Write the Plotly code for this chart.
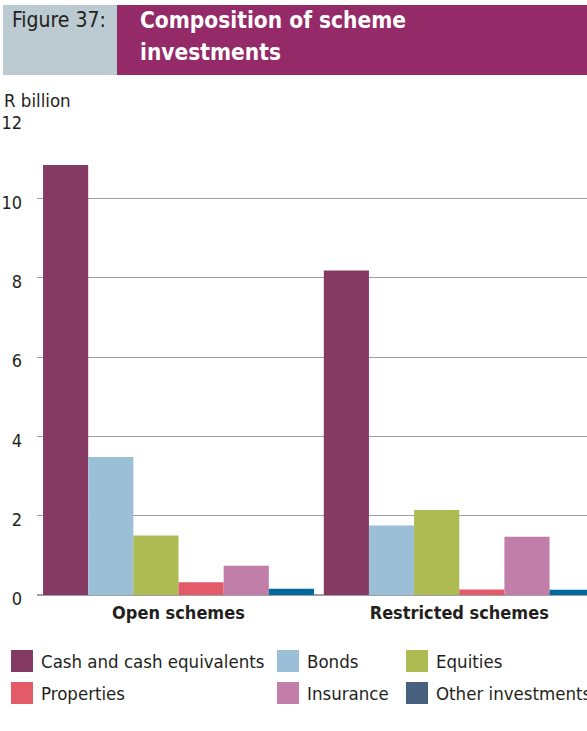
import plotly.graph_objects as go

# Chart data (R billion)
schemes = ["Open schemes", "Restricted schemes"]
asset_classes = ["Cash and cash equivalents", "Bonds", "Equities",
                 "Properties", "Insurance", "Other investments"]
cash = [10.84, 8.18]
bonds = [3.48, 1.75]
equities = [1.50, 2.14]
properties = [0.32, 0.14]
insurance = [0.74, 1.47]
other = [0.16, 0.13]
y_ticks = [0, 2, 4, 6, 8, 10, 12]

series = [cash, bonds, equities, properties, insurance, other]
bar_colors = ["#843A63", "#9BBFD6", "#ADBB52", "#E35A68", "#C07EA8", "#00699E"]
key_colors = ["#843A63", "#9BBFD6", "#ADBB52", "#E35A68", "#C07EA8", "#46607E"]

W, H = 587, 731
L, R, T, B = 37, 0, 119, 136  # plot area margins in px
PW, PH = W - L - R, H - T - B

FONT = "DejaVu Sans Condensed, Liberation Sans, sans-serif"
INK = "#231F20"


def px_x(x):
    return (x - L) / PW


def px_y(y):
    return (H - B - y) / PH


def text_at(x, y, text, size, color=INK, bold=False):
    fig.add_annotation(xref="paper", yref="paper", x=px_x(x), y=px_y(y),
                       text=f"<b>{text}</b>" if bold else text,
                       showarrow=False, xanchor="left", yanchor="middle",
                       font=dict(family=FONT, size=size, color=color))


fig = go.Figure()
for name, vals, col in zip(asset_classes, series, bar_colors):
    fig.add_trace(go.Bar(x=schemes, y=vals, name=name, marker_color=col,
                         marker_line_width=0, showlegend=False))

fig.update_layout(
    width=W, height=H,
    margin=dict(l=L, r=R, t=T, b=B, pad=0),
    paper_bgcolor="white", plot_bgcolor="white",
    barmode="group", bargap=0.035, bargroupgap=0,
    font=dict(family=FONT, size=17, color=INK),
    xaxis=dict(range=[-0.504, 1.455], showgrid=False, showline=False,
               ticks="", tickfont=dict(family=FONT, size=18, color=INK,
                                       weight="bold"),
               ticklabelstandoff=5),
    yaxis=dict(range=[0, 12], tickvals=y_ticks, showgrid=True,
               gridcolor="#A0A0A0", gridwidth=1, zeroline=True,
               zerolinecolor="#A0A0A0", zerolinewidth=1.5, showline=False,
               ticks="", tickfont=dict(family=FONT, size=18, color=INK),
               ticklabelstandoff=14, ticklabelshift=4),
)

# Header banner
fig.add_shape(type="rect", xref="paper", yref="paper",
              x0=px_x(3), x1=px_x(117), y0=px_y(75), y1=px_y(5),
              fillcolor="#BCCAD2", line_width=0, layer="below")
fig.add_shape(type="rect", xref="paper", yref="paper",
              x0=px_x(117), x1=px_x(587), y0=px_y(75), y1=px_y(5),
              fillcolor="#952A69", line_width=0, layer="below")
text_at(10, 20, "Figure 37:", 21)
text_at(138, 20, "Composition of scheme", 22.5, color="white", bold=True)
text_at(138, 52, "investments", 22.5, color="white", bold=True)

# Axis unit label
text_at(2, 101, "R billion", 18.5)

# Key, two rows of three
key_cols = [11, 277, 406]
key_rows = [661, 693]
for i, (name, col) in enumerate(zip(asset_classes, key_colors)):
    cx = key_cols[i % 3]
    cy = key_rows[i // 3]
    fig.add_shape(type="rect", xref="paper", yref="paper",
                  x0=px_x(cx), x1=px_x(cx + 22),
                  y0=px_y(cy + 11), y1=px_y(cy - 11),
                  fillcolor=col, line_width=0)
    text_at(cx + 28, cy, name, 18.5)

fig.write_html("out.html")
